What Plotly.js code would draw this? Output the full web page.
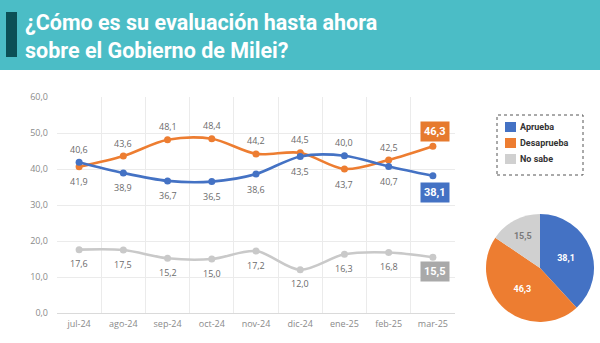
<!DOCTYPE html>
<html>
<head>
<meta charset="utf-8">
<script src="https://cdn.plot.ly/plotly-3.0.1.min.js"></script>
<style>html,body{margin:0;padding:0;background:#fff;}#chart{width:600px;height:343px;}</style>
</head>
<body>
<div id="chart"></div>
<script>
const months = ["jul-24","ago-24","sep-24","oct-24","nov-24","dic-24","ene-25","feb-25","mar-25"];
const aprueba = [41.9, 38.9, 36.7, 36.5, 38.6, 43.5, 43.7, 40.7, 38.1];
const desaprueba = [40.6, 43.6, 48.1, 48.4, 44.2, 44.5, 40.0, 42.5, 46.3];
const noSabe = [17.6, 17.5, 15.2, 15.0, 17.2, 12.0, 16.3, 16.8, 15.5];
const seriesNames = ["Aprueba", "Desaprueba", "No sabe"];
const yTicks = [0, 10, 20, 30, 40, 50, 60];
const titleText = "¿Cómo es su evaluación hasta ahora<br>sobre el Gobierno de Milei?";

const BLUE = "#4472C4", ORANGE = "#ED7D31", GRAY = "#C9C9C9", PIEGRAY = "#D0D0D0";
const fmt = v => v.toFixed(1).replace('.', ',');
const last = months.length - 1;
const W = 600, H = 343;
const px = x => x / W, py = y => 1 - y / H;

function lineTrace(vals, color, name) {
  return {
    type: "scatter", mode: "lines+markers", x: months, y: vals, name: name,
    line: {color: color, width: 2.6, shape: "spline", smoothing: 0.9},
    marker: {color: color, size: 7},
    showlegend: false, cliponaxis: false, hoverinfo: "x+y"
  };
}

const traces = [
  lineTrace(noSabe, GRAY, seriesNames[2]),
  lineTrace(desaprueba, ORANGE, seriesNames[1]),
  lineTrace(aprueba, BLUE, seriesNames[0]),
  {
    type: "pie", labels: seriesNames, values: [aprueba[last], desaprueba[last], noSabe[last]],
    text: [fmt(aprueba[last]), fmt(desaprueba[last]), fmt(noSabe[last])],
    textinfo: "text", textposition: "inside", insidetextorientation: "horizontal",
    textfont: {family: "Roboto, sans-serif", size: 9, color: ["#ffffff", "#ffffff", "#7a7a7a"], weight: "bold"},
    marker: {colors: [BLUE, ORANGE, PIEGRAY], line: {width: 0}},
    sort: false, direction: "clockwise", rotation: 0,
    domain: {x: [px(486), px(594)], y: [py(322), py(214)]},
    showlegend: false, hoverinfo: "label+value"
  }
];

const lblFont = {family: "Open Sans, sans-serif", size: 9, color: "#6b6b6b"};
const annotations = [];
months.forEach((m, i) => {
  if (i === last) return;
  const hi = Math.max(aprueba[i], desaprueba[i]);
  const lo = Math.min(aprueba[i], desaprueba[i]);
  annotations.push({xref: "x", yref: "y", x: m, y: hi, yshift: 13, text: fmt(desaprueba[i]),
    showarrow: false, font: lblFont});
  annotations.push({xref: "x", yref: "y", x: m, y: lo, yshift: -15, text: fmt(aprueba[i]),
    showarrow: false, font: lblFont});
  annotations.push({xref: "x", yref: "y", x: m, y: noSabe[i], yshift: -14, text: fmt(noSabe[i]),
    showarrow: false, font: lblFont});
});

const boxAnn = (vals, color, yshift) => ({
  xref: "x", yref: "y", x: months[last], y: vals[last], yshift: yshift, xshift: 2,
  text: "<b>" + fmt(vals[last]) + "</b>", showarrow: false,
  font: {family: "Roboto, sans-serif", size: 11, color: "#ffffff"},
  bgcolor: color, borderpad: 3
});
annotations.push(boxAnn(desaprueba, "#E67A2E", 15));
annotations.push(boxAnn(aprueba, BLUE, -17));
annotations.push(boxAnn(noSabe, "#A9A9A9", -14.5));

annotations.push({xref: "paper", yref: "paper", x: px(23), y: py(8), xanchor: "left", yanchor: "top", align: "left",
  text: "<b>" + titleText + "</b>", showarrow: false,
  font: {family: "Roboto, sans-serif", size: 21.5, color: "#ffffff"}});

const shapes = [
  {type: "rect", xref: "paper", yref: "paper", x0: 0, x1: 1, y0: py(70), y1: 1,
   fillcolor: "#4BBDC6", line: {width: 0}, layer: "below"},
  {type: "rect", xref: "paper", yref: "paper", x0: px(6), x1: px(17), y0: py(57), y1: py(12),
   fillcolor: "#0B5056", line: {width: 0}},
  {type: "rect", xref: "paper", yref: "paper", x0: px(497), x1: px(583), y0: py(175), y1: py(115),
   fillcolor: "rgba(0,0,0,0)", line: {color: "#555", width: 1, dash: "dot"}}
];
const legendColors = [BLUE, ORANGE, PIEGRAY];
seriesNames.forEach((n, k) => {
  const cy = 127 + 16 * k;
  shapes.push({type: "rect", xref: "paper", yref: "paper", x0: px(505), x1: px(516),
    y0: py(cy + 5), y1: py(cy - 5), fillcolor: legendColors[k], line: {width: 0}});
  annotations.push({xref: "paper", yref: "paper", x: px(518), y: py(cy), xanchor: "left", yanchor: "middle",
    text: "<b>" + n + "</b>", showarrow: false,
    font: {family: "Roboto, sans-serif", size: 9, color: "#333333"}});
});

const layout = {
  width: W, height: H, margin: {l: 0, r: 0, t: 0, b: 0},
  paper_bgcolor: "#ffffff", plot_bgcolor: "#ffffff",
  separators: ",.",
  font: {family: "Open Sans, sans-serif"},
  showlegend: false,
  xaxis: {
    domain: [px(57), px(455)], type: "category", range: [-0.5, 8.5],
    tickson: "boundaries", showgrid: true, gridcolor: "#EBEBEB", gridwidth: 1,
    ticks: "", showline: false, zeroline: false, ticklabelstandoff: 4,
    tickfont: {size: 9, color: "#8a8a8a"}, fixedrange: true
  },
  yaxis: {
    domain: [py(313), py(97)], range: [0, 60], tickvals: yTicks, tickformat: ".1f",
    showgrid: true, gridcolor: "#EBEBEB", zeroline: true, zerolinecolor: "#DADADA",
    ticks: "", ticklabelstandoff: 8, tickfont: {size: 9, color: "#8a8a8a"}, fixedrange: true
  },
  shapes: shapes,
  annotations: annotations
};

Plotly.newPlot("chart", traces, layout, {displayModeBar: false, staticPlot: true});
</script>
</body>
</html>
